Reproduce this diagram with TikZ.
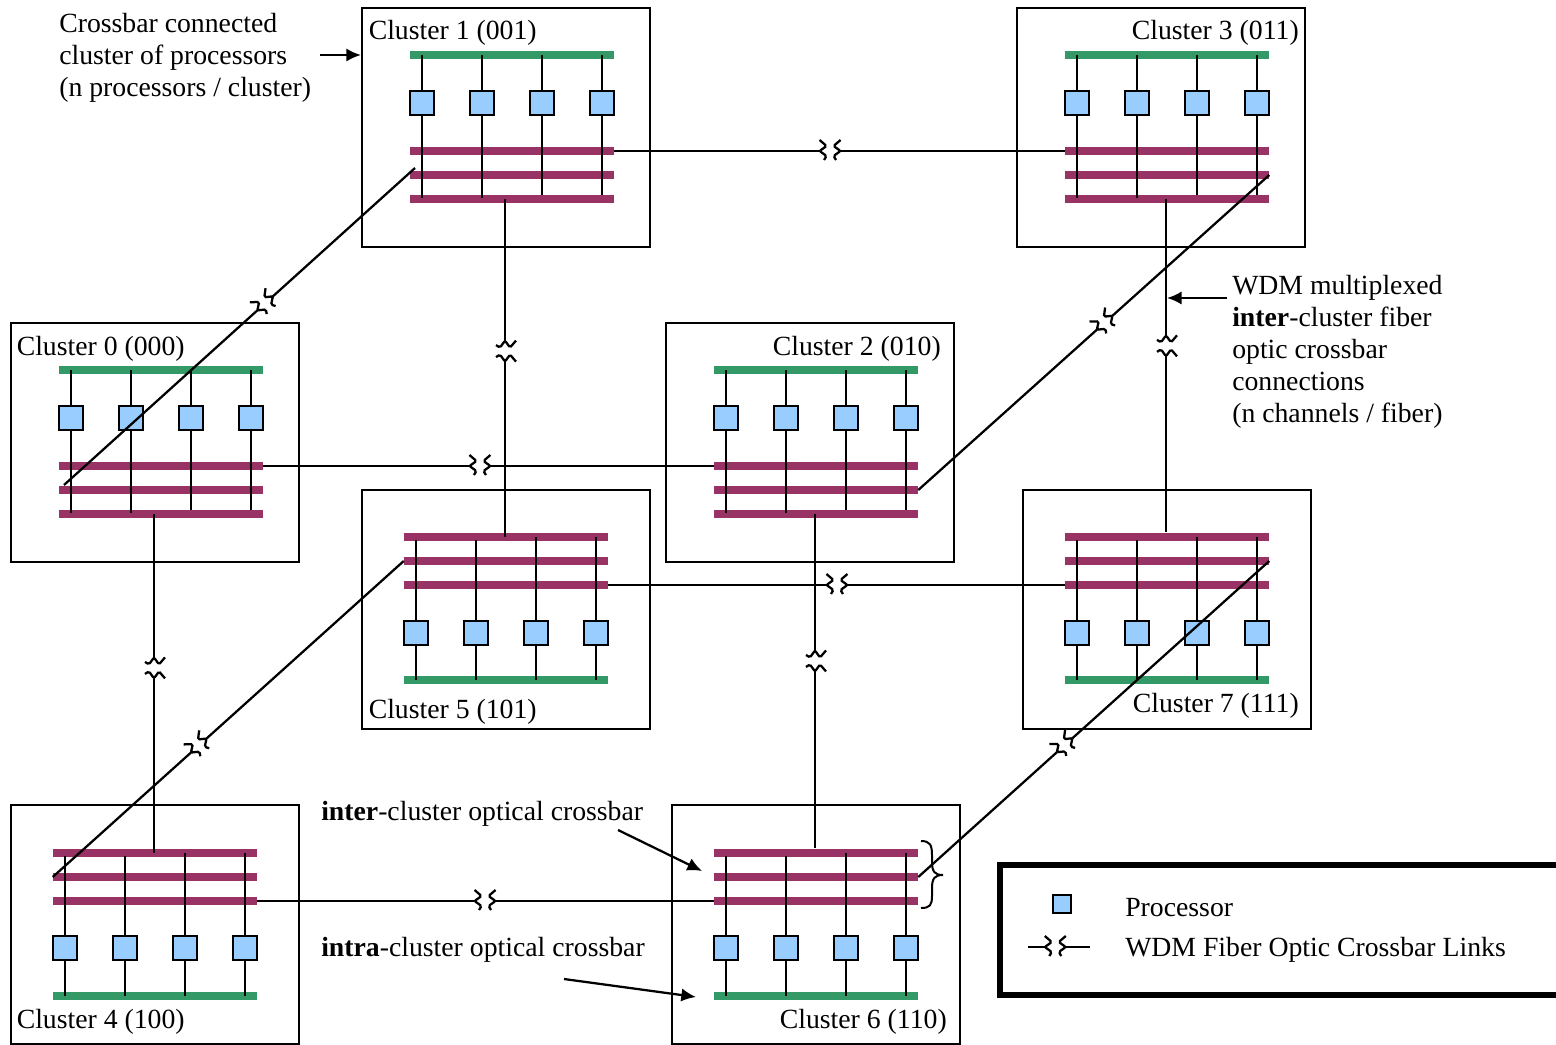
\documentclass[tikz,border=0pt]{standalone}
\usepackage{fontspec}
\setmainfont{Liberation Serif}
\usetikzlibrary{arrows.meta,calc}
\definecolor{barGreen}{HTML}{339966}
\definecolor{barPurple}{HTML}{993366}
\definecolor{procBlue}{HTML}{99CCFF}
\tikzset{
  lbl/.style={font=\fontsize{20.8}{24}\selectfont,inner sep=0pt,anchor=west,align=left},
  clusterbox/.style={draw,line width=1.6pt,inner sep=0pt,minimum width=216pt,minimum height=#1},
  crossbar/.style={fill=#1,inner sep=0pt,minimum width=153pt,minimum height=5.3pt},
  proc/.style={draw,line width=1.7pt,fill=procBlue,inner sep=0pt,minimum size=18pt},
  wire/.style={line width=1.7pt},
  link/.style={line width=1.7pt},
  callout/.style={line width=1.7pt,-{Latex[length=11pt,width=10pt]}},
  wdmgap/.pic={\foreach \d/\f in {-7/1,7/-1}{
    \draw[link,rounded corners=1.2pt] (\d-3.5*\f,-11) -- (\d+3.5*\f,-5) -- (\d-3.5*\f,0)
      -- (\d+3.5*\f,5) -- (\d+\f,9);}}
}
% id, box x, box y, bar offset, green y, processor y, first bar y, wire end y
\newcommand{\drawcluster}[8]{
  \begin{scope}[shift={(#2,#3)}]
    \node[clusterbox=179.25pt] (box#1) at (144,119.5) {};
    \node[crossbar=barGreen] (xg#1) at (#4+102,#5) {};
    \foreach \b/\k in {a/0,b/24,c/48}{
      \node[crossbar=barPurple] (xb#1\b) at (#4+102,#7+\k) {};
    }
    \foreach \i/\dx/\w in {1/12/3,2/72/3,3/132/0,4/192/0}{
      \coordinate (wt#1\i) at (#4+\dx,#5);
      \coordinate (wb#1\i) at (#4+\dx,#8+\w);
      \draw[wire] (wt#1\i) -- (wb#1\i);
      \node[proc] (p#1\i) at (#4+\dx,#6) {};
    }
  \end{scope}
}
% from, to, position of the break
\newcommand{\wdmlink}[3]{
  \path (#1) -- coordinate[pos=#3] (gapm) pic[pos=#3,sloped]{wdmgap} (#2);
  \draw[link] (#1) -- ($(gapm)!7.5pt!(#1)$);
  \draw[link] (#2) -- ($(gapm)!7.5pt!(#2)$);
}

\begin{document}
\begin{tikzpicture}[x=0.75pt,y=-0.75pt]
\useasboundingbox (0,0) rectangle (1556,1045);
\clip (0,0) rectangle (1556,1045);

\foreach \n/\x/\y/\o in {1/362/8/48,3/1017/8/48,0/11/323/48,2/666/323/48}{
  \drawcluster{\n}{\x}{\y}{\o}{47}{95}{143}{187}
}
\drawcluster{5}{362}{490}{42}{190}{143}{47}{47}
\drawcluster{7}{1023}{490}{42}{190}{143}{47}{47}
\drawcluster{4}{11}{805}{42}{191}{143}{48}{48}
\drawcluster{6}{672}{805}{42}{191}{143}{48}{48}

\foreach \n/\t/\x/\y/\a in {1/001/368.5/33/west,0/000/16.5/349/west,5/101/368.5/712/west,4/100/16.5/1022/west,
  3/011/1299/33/east,2/010/941/349/east,7/111/1299/706/east,6/110/947/1022/east}{
  \node[lbl,anchor=\a] (lab\n) at (\x,\y) {Cluster \n{} (\t)};
}

% ends of the vertical and upper diagonal links
\coordinate (v1) at (505,199);
\coordinate (v5) at (505,537);
\coordinate (v3) at (1166,199);
\coordinate (v7) at (1166,532);
\coordinate (v0) at (154,514);
\coordinate (v4) at (154,853);
\coordinate (v2) at (815,514);
\coordinate (v6) at (815,848);
\coordinate (d1) at (415,168);
\coordinate (d0) at (64,485);

\foreach \s/\e/\p in {xb1a.east/xb3a.west/0.479,xb0a.east/xb2a.west/0.481,
  xb5c.east/xb7c.west/0.501,xb4c.east/xb6c.west/0.499,
  v1/v5/0.45,v3/v7/0.441,v0/v4/0.454,v2/v6/0.44,
  d1/d0/0.427,xb3b.east/xb2b.east/0.469,xb5b.west/xb4b.west/0.584,xb7b.east/xb6b.east/0.583}{
  \wdmlink{\s}{\e}{\p}
}

\node[lbl] (crossnote) at (59,58) {Crossbar connected\\cluster of processors\\(n processors / cluster)};
\coordinate (crosstail) at (320,55);
\draw[callout] (crosstail) -- (box1.west |- crosstail);

\node[lbl] (wdmnote) at (1232,352) {WDM multiplexed\\\textbf{inter}-cluster fiber\\optic crossbar\\connections\\(n channels / fiber)};
\coordinate (wdmtail) at (1227,298);
\coordinate (wdmtip) at (1167,298);
\draw[callout] (wdmtail) -- (wdmtip);

\node[lbl] (internote) at (321,814) {\textbf{inter}-cluster optical crossbar};
\coordinate (intertail) at (618,830);
\coordinate (intertip) at (702,871);
\draw[callout] (intertail) -- (intertip);

\node[lbl] (intranote) at (321,950) {\textbf{intra}-cluster optical crossbar};
\coordinate (intratail) at (564,979);
\coordinate (intratip) at (696,997);
\draw[callout] (intratail) -- (intratip);

\coordinate (bracetop) at (921,841);
\coordinate (bracebot) at (921,908);
\draw[line width=1.5pt] (bracetop) .. controls (930,841) and (932,845) .. (932,855) -- (932,862)
  .. controls (932,872) and (935,875) .. (943,875) .. controls (935,875) and (932,878) .. (932,888)
  -- (932,896) .. controls (932,905) and (930,908) .. (bracebot);

% legend runs off the right edge
\node[draw,line width=4.5pt,inner sep=0pt,minimum width=500pt,minimum height=97pt] (legend) at (1333,930) {};
\node[proc,minimum size=13pt] (legproc) at (1062,904) {};
\node[lbl] (legproctxt) at (1125,908) {Processor};
\coordinate (lega) at (1028,947);
\coordinate (legb) at (1090,947);
\wdmlink{lega}{legb}{0.44}
\node[lbl] (leglinktxt) at (1125,950) {WDM Fiber Optic Crossbar Links};
\end{tikzpicture}
\end{document}
